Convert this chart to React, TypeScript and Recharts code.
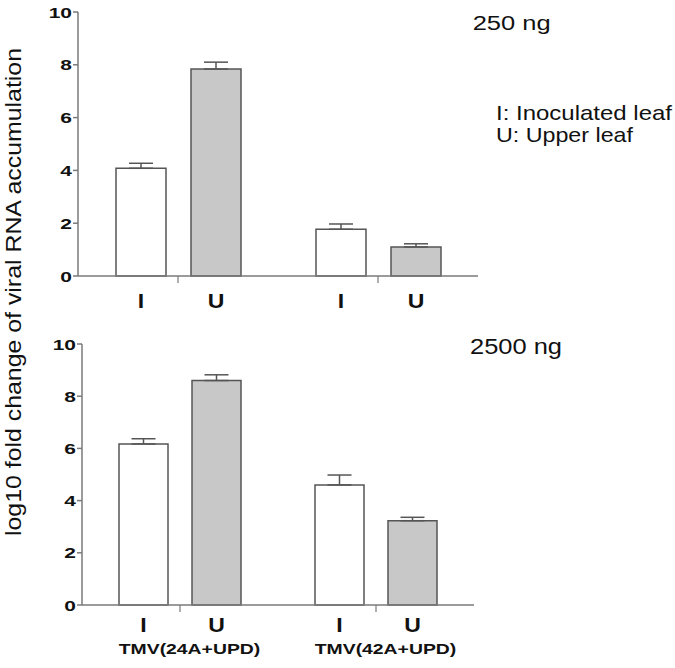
import React from "react";
import { BarChart, Bar, XAxis, YAxis, ErrorBar, LabelList } from "recharts";

const groups = ["TMV(24A+UPD)", "TMV(42A+UPD)"];
const seriesLabels = ["I", "U"];
const yTicks = [0, 2, 4, 6, 8, 10];

const ng250I = [4.08, 1.77];
const ng250IErr = [0.19, 0.2];
const ng250U = [7.84, 1.1];
const ng250UErr = [0.26, 0.12];

const ng2500I = [6.17, 4.6];
const ng2500IErr = [0.2, 0.38];
const ng2500U = [8.6, 3.23];
const ng2500UErr = [0.22, 0.13];

const build = (iv: number[], ie: number[], uv: number[], ue: number[]) =>
  groups.map((g, k) => ({ group: g, I: iv[k], U: uv[k], errI: [0, ie[k]], errU: [0, ue[k]] }));

const data250 = build(ng250I, ng250IErr, ng250U, ng250UErr);
const data2500 = build(ng2500I, ng2500IErr, ng2500U, ng2500UErr);

const FONT = "Arial, 'Liberation Sans', Helvetica, sans-serif";
const AXIS = "#7a7a7a";
const EDGE = "#555555";
const GREY = "#c8c8c8";
const TXT = "#111111";

const YTick = (props: any) => {
  const { x, y, payload } = props;
  return (
    <g transform={`translate(${x},${y}) scale(1.35,1)`}>
      <text x={0} y={0} dy="0.36em" textAnchor="end" fontFamily={FONT} fontWeight="bold" fontSize={15.5} fill={TXT}>
        {payload.value}
      </text>
    </g>
  );
};

const makeXTick = (showNames: boolean) => (props: any) => {
  const { x, y, payload } = props;
  if (!showNames) return <g />;
  return (
    <g transform={`translate(${x + 9.5},${y + 40}) scale(1.25,1)`}>
      <text x={0} y={0} textAnchor="middle" fontFamily={FONT} fontWeight="bold" fontSize={15.5} fill={TXT}>
        {payload.value}
      </text>
    </g>
  );
};

const makeBarLabel = (text: string, dy: number) => (props: any) => {
  const vb = props.viewBox && props.viewBox.width !== undefined ? props.viewBox : props;
  const cx = vb.x + vb.width / 2;
  const base = vb.y + vb.height;
  return (
    <g transform={`translate(${cx},${base + dy}) scale(1.15,1)`}>
      <text x={0} y={0} textAnchor="middle" fontFamily={FONT} fontWeight="bold" fontSize={20} fill={TXT}>
        {text}
      </text>
    </g>
  );
};

type PanelProps = {
  data: any[];
  height: number;
  top: number;
  yWidth: number;
  right: number;
  xHeight: number;
  barSize: number;
  barGap: number;
  labelDy: number;
  showNames: boolean;
};

const Panel = ({ data, height, top, yWidth, right, xHeight, barSize, barGap, labelDy, showNames }: PanelProps) => (
  <BarChart
    width={675}
    height={height}
    data={data}
    margin={{ top, right, bottom: 0, left: 0 }}
    barCategoryGap={0}
    barGap={barGap}
    barSize={barSize}
  >
    <XAxis
      dataKey="group"
      height={xHeight}
      axisLine={{ stroke: AXIS, strokeWidth: 1.5 }}
      tickLine={{ stroke: AXIS, strokeWidth: 1.2 }}
      tickSize={7}
      tick={makeXTick(showNames)}
      interval={0}
    />
    <YAxis
      width={yWidth}
      domain={[0, 10]}
      ticks={yTicks}
      axisLine={{ stroke: AXIS, strokeWidth: 1.5 }}
      tickLine={{ stroke: AXIS, strokeWidth: 1.5 }}
      tickSize={5}
      tickMargin={1}
      tick={<YTick />}
      interval={0}
    />
    <Bar dataKey="I" fill="#ffffff" stroke={EDGE} strokeWidth={1.5} isAnimationActive={false}>
      <ErrorBar dataKey="errI" width={12} stroke={EDGE} strokeWidth={1.5} direction="y" isAnimationActive={false} />
      <LabelList dataKey="I" content={makeBarLabel(seriesLabels[0], labelDy)} />
    </Bar>
    <Bar dataKey="U" fill={GREY} stroke={EDGE} strokeWidth={1.5} isAnimationActive={false}>
      <ErrorBar dataKey="errU" width={12} stroke={EDGE} strokeWidth={1.5} direction="y" isAnimationActive={false} />
      <LabelList dataKey="U" content={makeBarLabel(seriesLabels[1], labelDy)} />
    </Bar>
  </BarChart>
);

export default function App() {
  return (
    <div style={{ position: "absolute", left: 0, top: 0, width: 675, height: 668, background: "#fff" }}>
      <div style={{ position: "absolute", left: 0, top: 0 }}>
        <Panel data={data250} height={320} top={12} yWidth={78} right={197} xHeight={44} barSize={50} barGap={25} labelDy={32} showNames={false} />
      </div>
      <div style={{ position: "absolute", left: 0, top: 320 }}>
        <Panel data={data2500} height={348} top={24} yWidth={82} right={201} xHeight={63} barSize={49} barGap={24} labelDy={27} showNames={true} />
      </div>
      <svg width={675} height={668} style={{ position: "absolute", left: 0, top: 0, pointerEvents: "none" }}>
        <text
          transform="translate(20.5,292) rotate(-90)"
          textAnchor="middle"
          fontFamily={FONT}
          fontSize={22.5}
          fill={TXT}
          textLength={488}
          lengthAdjust="spacingAndGlyphs"
        >
          log10 fold change of viral RNA accumulation
        </text>
        <text x={472.7} y={30} fontFamily={FONT} fontSize={19.5} fill={TXT} textLength={78} lengthAdjust="spacingAndGlyphs">
          250 ng
        </text>
        <text x={496} y={120} fontFamily={FONT} fontSize={21} fill={TXT} textLength={176} lengthAdjust="spacingAndGlyphs">
          I: Inoculated leaf
        </text>
        <text x={496} y={142.3} fontFamily={FONT} fontSize={21} fill={TXT} textLength={137} lengthAdjust="spacingAndGlyphs">
          U: Upper leaf
        </text>
        <text x={470} y={354.3} fontFamily={FONT} fontSize={22} fill={TXT} textLength={92} lengthAdjust="spacingAndGlyphs">
          2500 ng
        </text>
      </svg>
    </div>
  );
}
